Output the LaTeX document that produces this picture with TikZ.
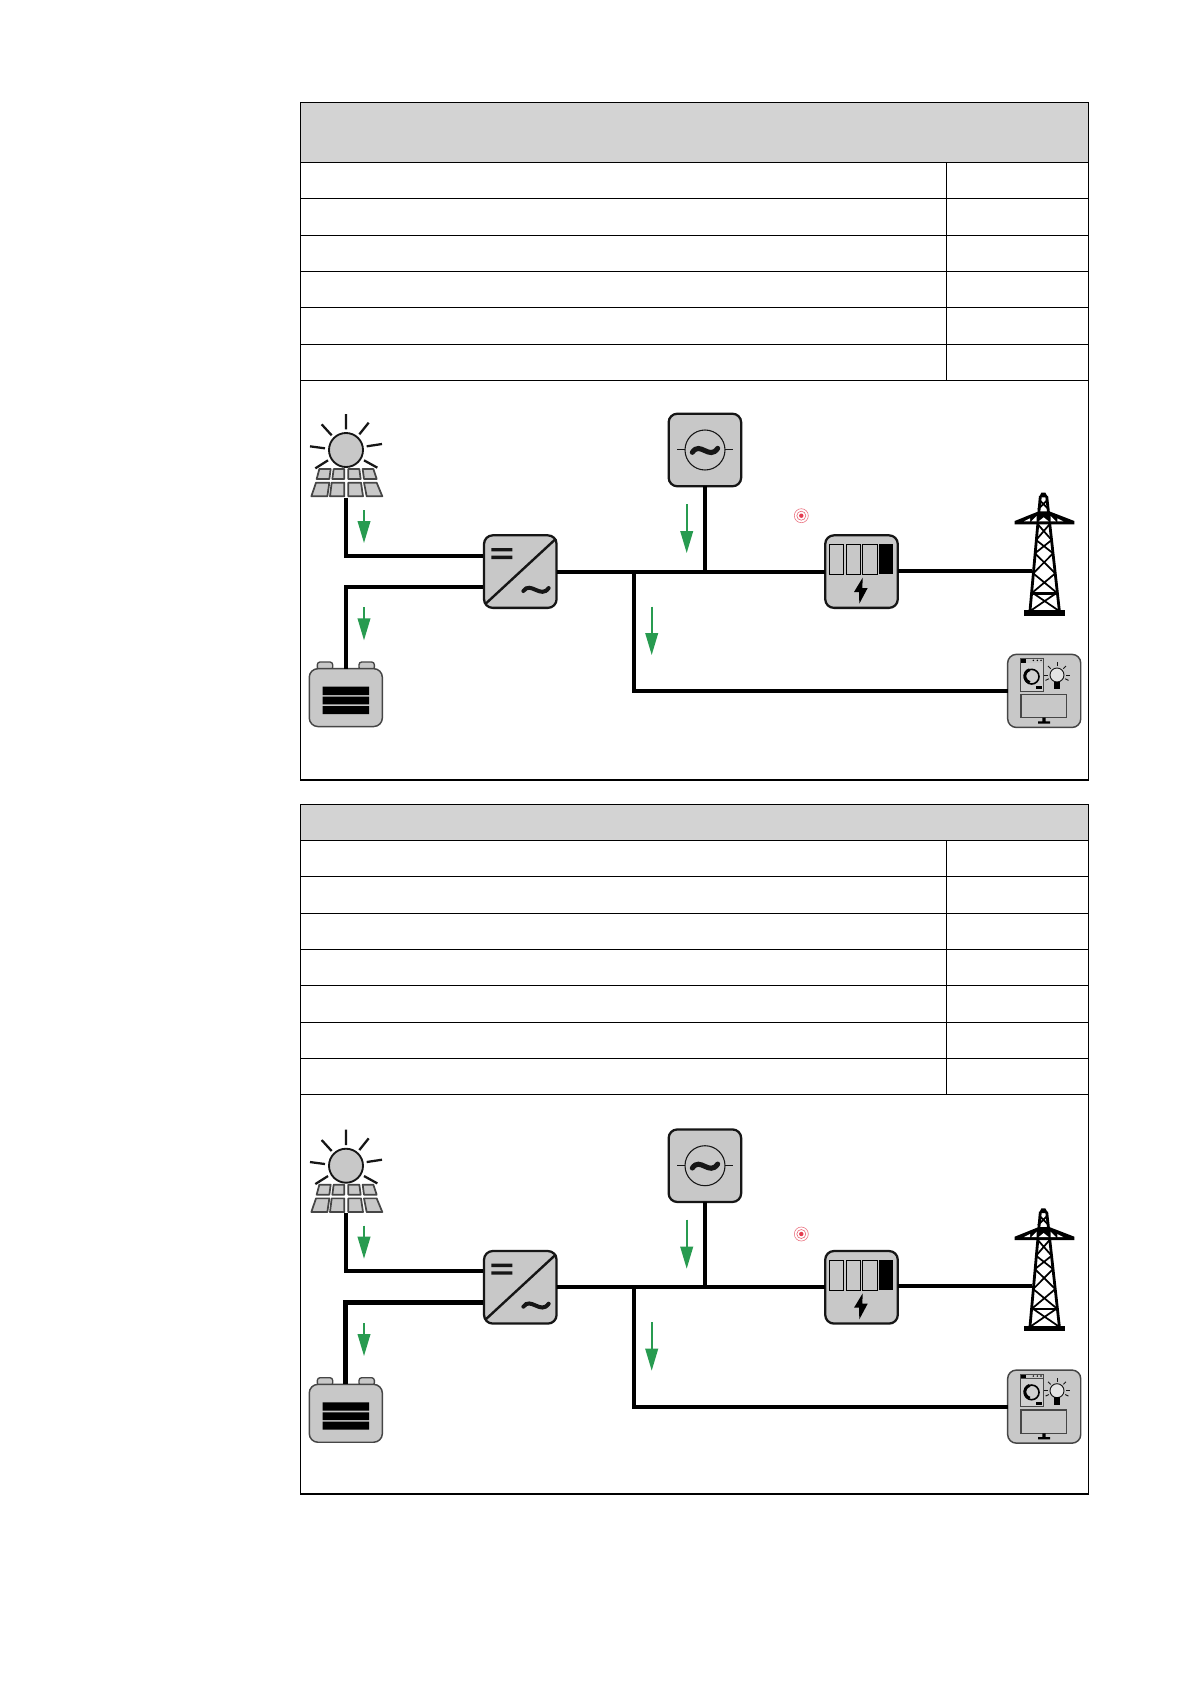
\documentclass[tikz,border=0pt]{standalone}
\usetikzlibrary{arrows.meta}
\definecolor{devgray}{RGB}{200,200,200}
\definecolor{headgray}{RGB}{211,211,211}
\definecolor{ink}{RGB}{22,22,22}
\definecolor{softink}{RGB}{70,70,70}
\definecolor{flowgreen}{RGB}{40,155,80}
\definecolor{targetred}{RGB}{228,60,80}
\tikzset{
  x=0.75pt,y=-0.75pt,
  devbox/.style={draw=ink,fill=devgray,line width=1.7pt,rounded corners=6.5pt,
     minimum width=54.4pt,minimum height=54.4pt,inner sep=0pt,outer sep=0pt},
  softbox/.style={devbox,draw=softink,line width=1.1pt,minimum width=54.8pt,minimum height=54.8pt},
  batbox/.style={softbox,minimum height=43.4pt},
  wire/.style={draw=black,line width=2.95pt,line join=miter},
  flow/.style={draw=flowgreen,line width=1.25pt,-{Triangle[length=16.5pt,width=9.5pt]}},
  tblthin/.style={draw=black,line width=0.85pt},
  tblouter/.style={draw=black,line width=0.95pt},
  zoomA/.style={shift={(290,390)},x=0.25pt,y=-0.25pt},
  zoomB/.style={shift={(640,400)},x=0.25pt,y=-0.25pt},
  zoomC/.style={shift={(980,480)},x=0.25pt,y=-0.25pt},
  tilde/.style={draw=ink,line cap=round},
  pics/target/.style={code={
    \draw[targetred!70,line width=0.45pt] (0,0) circle (7);
    \draw[targetred!80,line width=0.45pt] (0,0) circle (4.5);
    \fill[targetred] (0,0) circle (2.2);
  }},
  pics/diagram/.style={code={
    % sun and PV panel
    \begin{scope}[zoomA]
      \draw[ink,line width=1.7pt] (168,72)--(168,118) (236,98)--(208,133) (276,162)--(230,169)
        (262,233)--(222,211) (76,235)--(114,211) (60,169)--(105,175) (95,103)--(125,136);
      \draw[ink,fill=devgray,line width=1.4pt] (168,180) circle (51);
      \begin{scope}[draw=softink,fill=devgray,line width=1.3pt,line join=round]
        \filldraw (88,237)--(122,237)--(118,267)--(80,267)--cycle;
        \filldraw (131,237)--(163,237)--(163,267)--(127,267)--cycle;
        \filldraw (175,237)--(208,237)--(212,267)--(175,267)--cycle;
        \filldraw (218,237)--(250,237)--(260,267)--(222,267)--cycle;
        \filldraw (78,278)--(118,278)--(112,319)--(64,319)--cycle;
        \filldraw (125,278)--(163,278)--(163,319)--(120,319)--cycle;
        \filldraw (175,278)--(213,278)--(219,319)--(175,319)--cycle;
        \filldraw (222,278)--(260,278)--(277,319)--(230,319)--cycle;
      \end{scope}
      \coordinate (pv) at (168,323);
      % battery terminals
      \filldraw[softink,fill=devgray,line width=1pt,rounded corners=2pt] (82,840)--(82,816)--(128,816)--(128,840)--cycle;
      \filldraw[softink,fill=devgray,line width=1pt,rounded corners=2pt] (207,840)--(207,816)--(253,816)--(253,840)--cycle;
    \end{scope}
    % devices
    \node[devbox] (inv) at (520.3,571.6) {};
    \node[devbox] (gen) at (704.9,450) {};
    \node[devbox] (meter) at (861.5,571.6) {};
    \node[softbox] (cons) at (1044.2,690.9) {};
    \node[batbox] (bat) at (345.8,697.6) {};
    % inverter and battery details
    \begin{scope}[zoomA]
      \draw[ink,line width=1.8pt] (586,642)--(798,446);
      \fill[ink] (604,474) rectangle (667,484) (604,497) rectangle (667,507);
      \draw[tilde,line width=3pt] (700,603) .. controls (722,572) and (752,628) .. (776,594);
      \fill[black] (98,890) rectangle (237,915) (98,920) rectangle (237,943) (98,948) rectangle (237,972);
    \end{scope}
    % generator and meter details
    \begin{scope}[zoomB]
      \draw[ink,line width=0.8pt] (195,150) circle (60);
      \draw[ink,line width=0.8pt] (112,149)--(135,149) (255,149)--(278,149);
      \draw[tilde,line width=3.8pt] (157,157) .. controls (180,122) and (208,182) .. (233,145);
      \draw[black,line width=0.8pt] (568,433) rectangle (610,523) (619,433) rectangle (662,523) (667,433) rectangle (713,523);
      \fill[black] (717,433) rectangle (760,523);
      \fill[black] (668,533)--(642,576)--(657,576)--(658,611)--(683,564)--(667,564)--cycle;
    \end{scope}
    % pylon and consumers
    \begin{scope}[zoomC]
      \fill[black] (132,390) rectangle (255,407);
      \draw[black,line width=2.1pt] (181,48)--(150,392) (200,48)--(238,392);
      \fill[black] (184,38)--(196,38)--(204,52)--(177,52)--cycle;
      \draw[black,line width=1.3pt] (178,60)--(206,88) (202,60)--(174,88)
        (172.6,132)--(214.9,180) (209.4,132)--(168.3,180)
        (168.3,180)--(219.3,220) (214.9,180)--(164.8,220)
        (164.8,220)--(225.9,280) (219.3,220)--(159.6,280)
        (159.6,280)--(232.5,340) (225.9,280)--(154.4,340)
        (160,340)--(236,392) (228,340)--(152,392);
      \draw[black,line width=2pt] (154.4,340)--(232.5,340);
      \fill[black] (104,123)--(176,94)--(208,94)--(283,123)--(283,133)--(104,133)--cycle;
      \fill[white] (132,124)--(150,124)--(150,115)--cycle (154,124)--(170,124)--(170,108)--cycle
        (176,124)--(191,112)--(206,124)--cycle (212,124)--(228,124)--(212,108)--cycle (232,124)--(250,124)--(232,115)--cycle;
      \coordinate (feed) at (155,272);
      % washing machine
      \filldraw[softink,fill=devgray!85!white,line width=0.7pt] (120,535) rectangle (190,633);
      \fill[black!70] (120,535) rectangle (190,550);
      \fill[devgray] (138,538) rectangle (190,548);
      \fill[black] (122,537) rectangle (137,548);
      \fill[black] (160,541) circle (2.5) (172,541) circle (2.5) (183,541) circle (2.5);
      \draw[black,line width=1.2pt] (155,590) circle (22);
      \draw[black,line width=2.2pt] (149,569) arc[start angle=254,end angle=106,radius=20];
      \fill[black] (168,618) rectangle (186,628);
      % bulb
      \filldraw[ink,fill=devgray!50!white,line width=0.7pt] (231,585) circle (21);
      \fill[black] (222,605) rectangle (241,628);
      \begin{scope}[shift={(231,585)}]
        \foreach \a in {-180,-135,-90,-45,0,155,25}
          \draw[ink,line width=0.7pt] (\a:27)--(\a:38);
      \end{scope}
      % monitor
      \filldraw[softink,fill=devgray,line width=0.9pt] (123,643) rectangle (260,713);
      \fill[black] (187,713) rectangle (197,724) (174,724) rectangle (210,731);
    \end{scope}
    % connectors
    \coordinate (pvrow) at (483,555.7);
    \coordinate (batrow) at (483,586.7);
    \coordinate (bus) at (633.7,571.6);
    \draw[wire] (pv) |- (pvrow);
    \draw[wire,line width=#1] (batrow) -| (bat.north);
    \draw[wire] (inv.east) -- (meter.west);
    \draw[wire] (gen.south) -- (gen.south |- bus);
    \draw[wire] (bus) |- (cons.west);
    \draw[wire] (meter.east |- feed) -- (feed);
    % flow arrows
    \coordinate (a1s) at (364,510);     \coordinate (a1e) at (364,543);
    \coordinate (a2s) at (364,607.3);   \coordinate (a2e) at (364,640.3);
    \coordinate (a3s) at (686.7,504);   \coordinate (a3e) at (686.7,553);
    \coordinate (a4s) at (651.7,606.7); \coordinate (a4e) at (651.7,655);
    \draw[flow] (a1s) -- (a1e);
    \draw[flow] (a2s) -- (a2e);
    \draw[flow] (a3s) -- (a3e);
    \draw[flow] (a4s) -- (a4e);
  }}
}
\begin{document}
\begin{tikzpicture}
\useasboundingbox (0,0) rectangle (1191,1684);
\fill[white] (0,0) rectangle (1191,1684);
% first table
\fill[headgray] (300.7,102.3) rectangle (1088.3,162.3);
\foreach \r in {162.3,198.3,235.3,271.3,307.3,344.3,380.3}
  \draw[tblthin] (300.7,\r) -- (1088.3,\r);
\draw[tblthin] (946.3,162.3) -- (946.3,380.3);
\draw[tblouter] (300.7,102.3) rectangle (1088.3,780);
% second table
\fill[headgray] (300.7,804.3) rectangle (1088.3,840.3);
\foreach \r in {840.3,876.3,913.3,949.3,985.3,1022.3,1058.3,1094.3}
  \draw[tblthin] (300.7,\r) -- (1088.3,\r);
\draw[tblthin] (946.3,840.3) -- (946.3,1094.3);
\draw[tblouter] (300.7,804.3) rectangle (1088.3,1494);
% diagrams
\pic (first) at (0,0) {diagram=2.95pt};
\pic (second) at (0,715.7) {diagram=3.5pt};
\pic (mark1) at (801.3,515.7) {target};
\pic (mark2) at (801.3,1234) {target};
\end{tikzpicture}
\end{document}
